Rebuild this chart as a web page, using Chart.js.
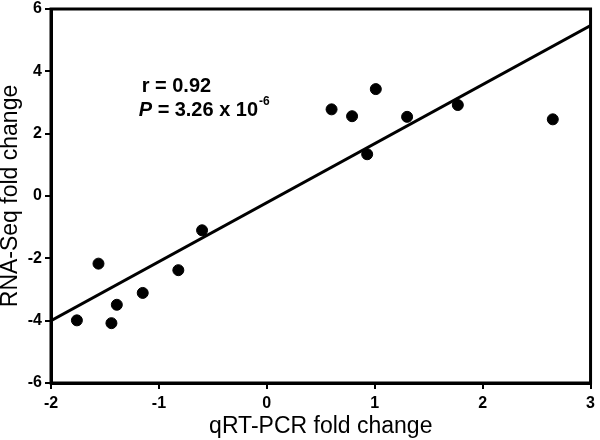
<!DOCTYPE html>
<html><head><meta charset="utf-8">
<script src="https://cdn.jsdelivr.net/npm/chart.js@4"></script>
<style>html,body{margin:0;padding:0;background:#fff}#wrap{width:600px;height:440px}</style>
</head><body><div id="wrap"><canvas id="c" width="600" height="440"></canvas></div>
<script>
const qpcr = [-1.76, -1.56, -1.39, -1.44, -1.15, -0.82, -0.60, 0.60, 0.79, 1.01, 0.93, 1.30, 1.77, 2.65];
const rnaseq = [-3.99, -2.17, -3.49, -4.08, -3.11, -2.38, -1.10, 2.78, 2.56, 3.43, 1.34, 2.54, 2.92, 2.46];
const fitX = [-2, 3];
const fitY = [-4.0, 5.47];
const xTicks = [-2, -1, 0, 1, 2, 3];
const yTicks = [-6, -4, -2, 0, 2, 4, 6];
const statR = "r = 0.92";
const statP = "3.26 x 10";
const statExp = "-6";

const points = qpcr.map((x, i) => ({x, y: rnaseq[i]}));
const fit = fitX.map((x, i) => ({x, y: fitY[i]}));
const FONT = '"Liberation Sans", Arial, sans-serif';

const framePlugin = {
  id: 'frame',
  afterDatasetsDraw(chart) {
    const {ctx, chartArea: a} = chart;
    ctx.save();
    ctx.strokeStyle = '#000';
    ctx.lineWidth = 3;
    ctx.strokeRect(a.left, a.top, a.right - a.left, a.bottom - a.top);
    const xs = chart.scales.x, ys = chart.scales.y;
    ctx.fillStyle = '#000';
    ctx.textBaseline = 'middle';
    ctx.textAlign = 'left';
    ctx.font = 'bold 20px ' + FONT;
    const x0 = xs.getPixelForValue(-1.16);
    ctx.fillText(statR, x0, ys.getPixelForValue(3.52));
    const yP = ys.getPixelForValue(2.75);
    ctx.font = 'italic bold 20px ' + FONT;
    ctx.fillText('P', x0 - 3, yP);
    ctx.font = 'bold 20px ' + FONT;
    ctx.fillText('=', x0 + 16, yP);
    ctx.fillText(statP, x0 + 33, yP);
    const w = ctx.measureText(statP).width;
    ctx.font = 'bold 12px ' + FONT;
    ctx.fillText(statExp, x0 + 33 + w + 1, yP - 9);
    ctx.restore();
  }
};

new Chart(document.getElementById('c'), {
  type: 'scatter',
  data: {
    datasets: [
      {data: points, backgroundColor: '#000', borderColor: '#000', pointRadius: 5.5, pointHoverRadius: 5.5},
      {type: 'line', data: fit, borderColor: '#000', borderWidth: 3, pointRadius: 0, fill: false, showLine: true}
    ]
  },
  options: {
    responsive: false,
    animation: false,
    events: [],
    layout: {padding: {top: 0, right: 7, left: 0, bottom: 0}},
    plugins: {legend: {display: false}, tooltip: {enabled: false}},
    scales: {
      x: {
        type: 'linear', min: -2, max: 3,
        afterBuildTicks: s => { s.ticks = xTicks.map(v => ({value: v})); },
        afterFit: s => { s.height = 57; },
        grid: {display: true, drawOnChartArea: false, drawTicks: true, tickLength: 6, color: '#000', lineWidth: 2},
        border: {display: true, color: '#000', width: 3},
        ticks: {color: '#000', padding: 5, font: {family: FONT, size: 16, weight: 'bold'}, maxRotation: 0},
        title: {display: true, text: 'qRT-PCR fold change', color: '#000', padding: {top: 0, bottom: 0}, font: {family: FONT, size: 23}}
      },
      y: {
        type: 'linear', min: -6, max: 6,
        afterBuildTicks: s => { s.ticks = yTicks.map(v => ({value: v})); },
        afterFit: s => { s.width = 51; },
        grid: {display: true, drawOnChartArea: false, drawTicks: true, tickLength: 6, color: '#000', lineWidth: 2},
        border: {display: true, color: '#000', width: 3},
        ticks: {color: '#000', padding: 3, font: {family: FONT, size: 16, weight: 'bold', lineHeight: 0.75}},
        title: {display: true, text: 'RNA-Seq fold change', color: '#000', padding: {top: -3, bottom: 0}, font: {family: FONT, size: 23}}
      }
    }
  },
  plugins: [framePlugin]
});
</script></body></html>
